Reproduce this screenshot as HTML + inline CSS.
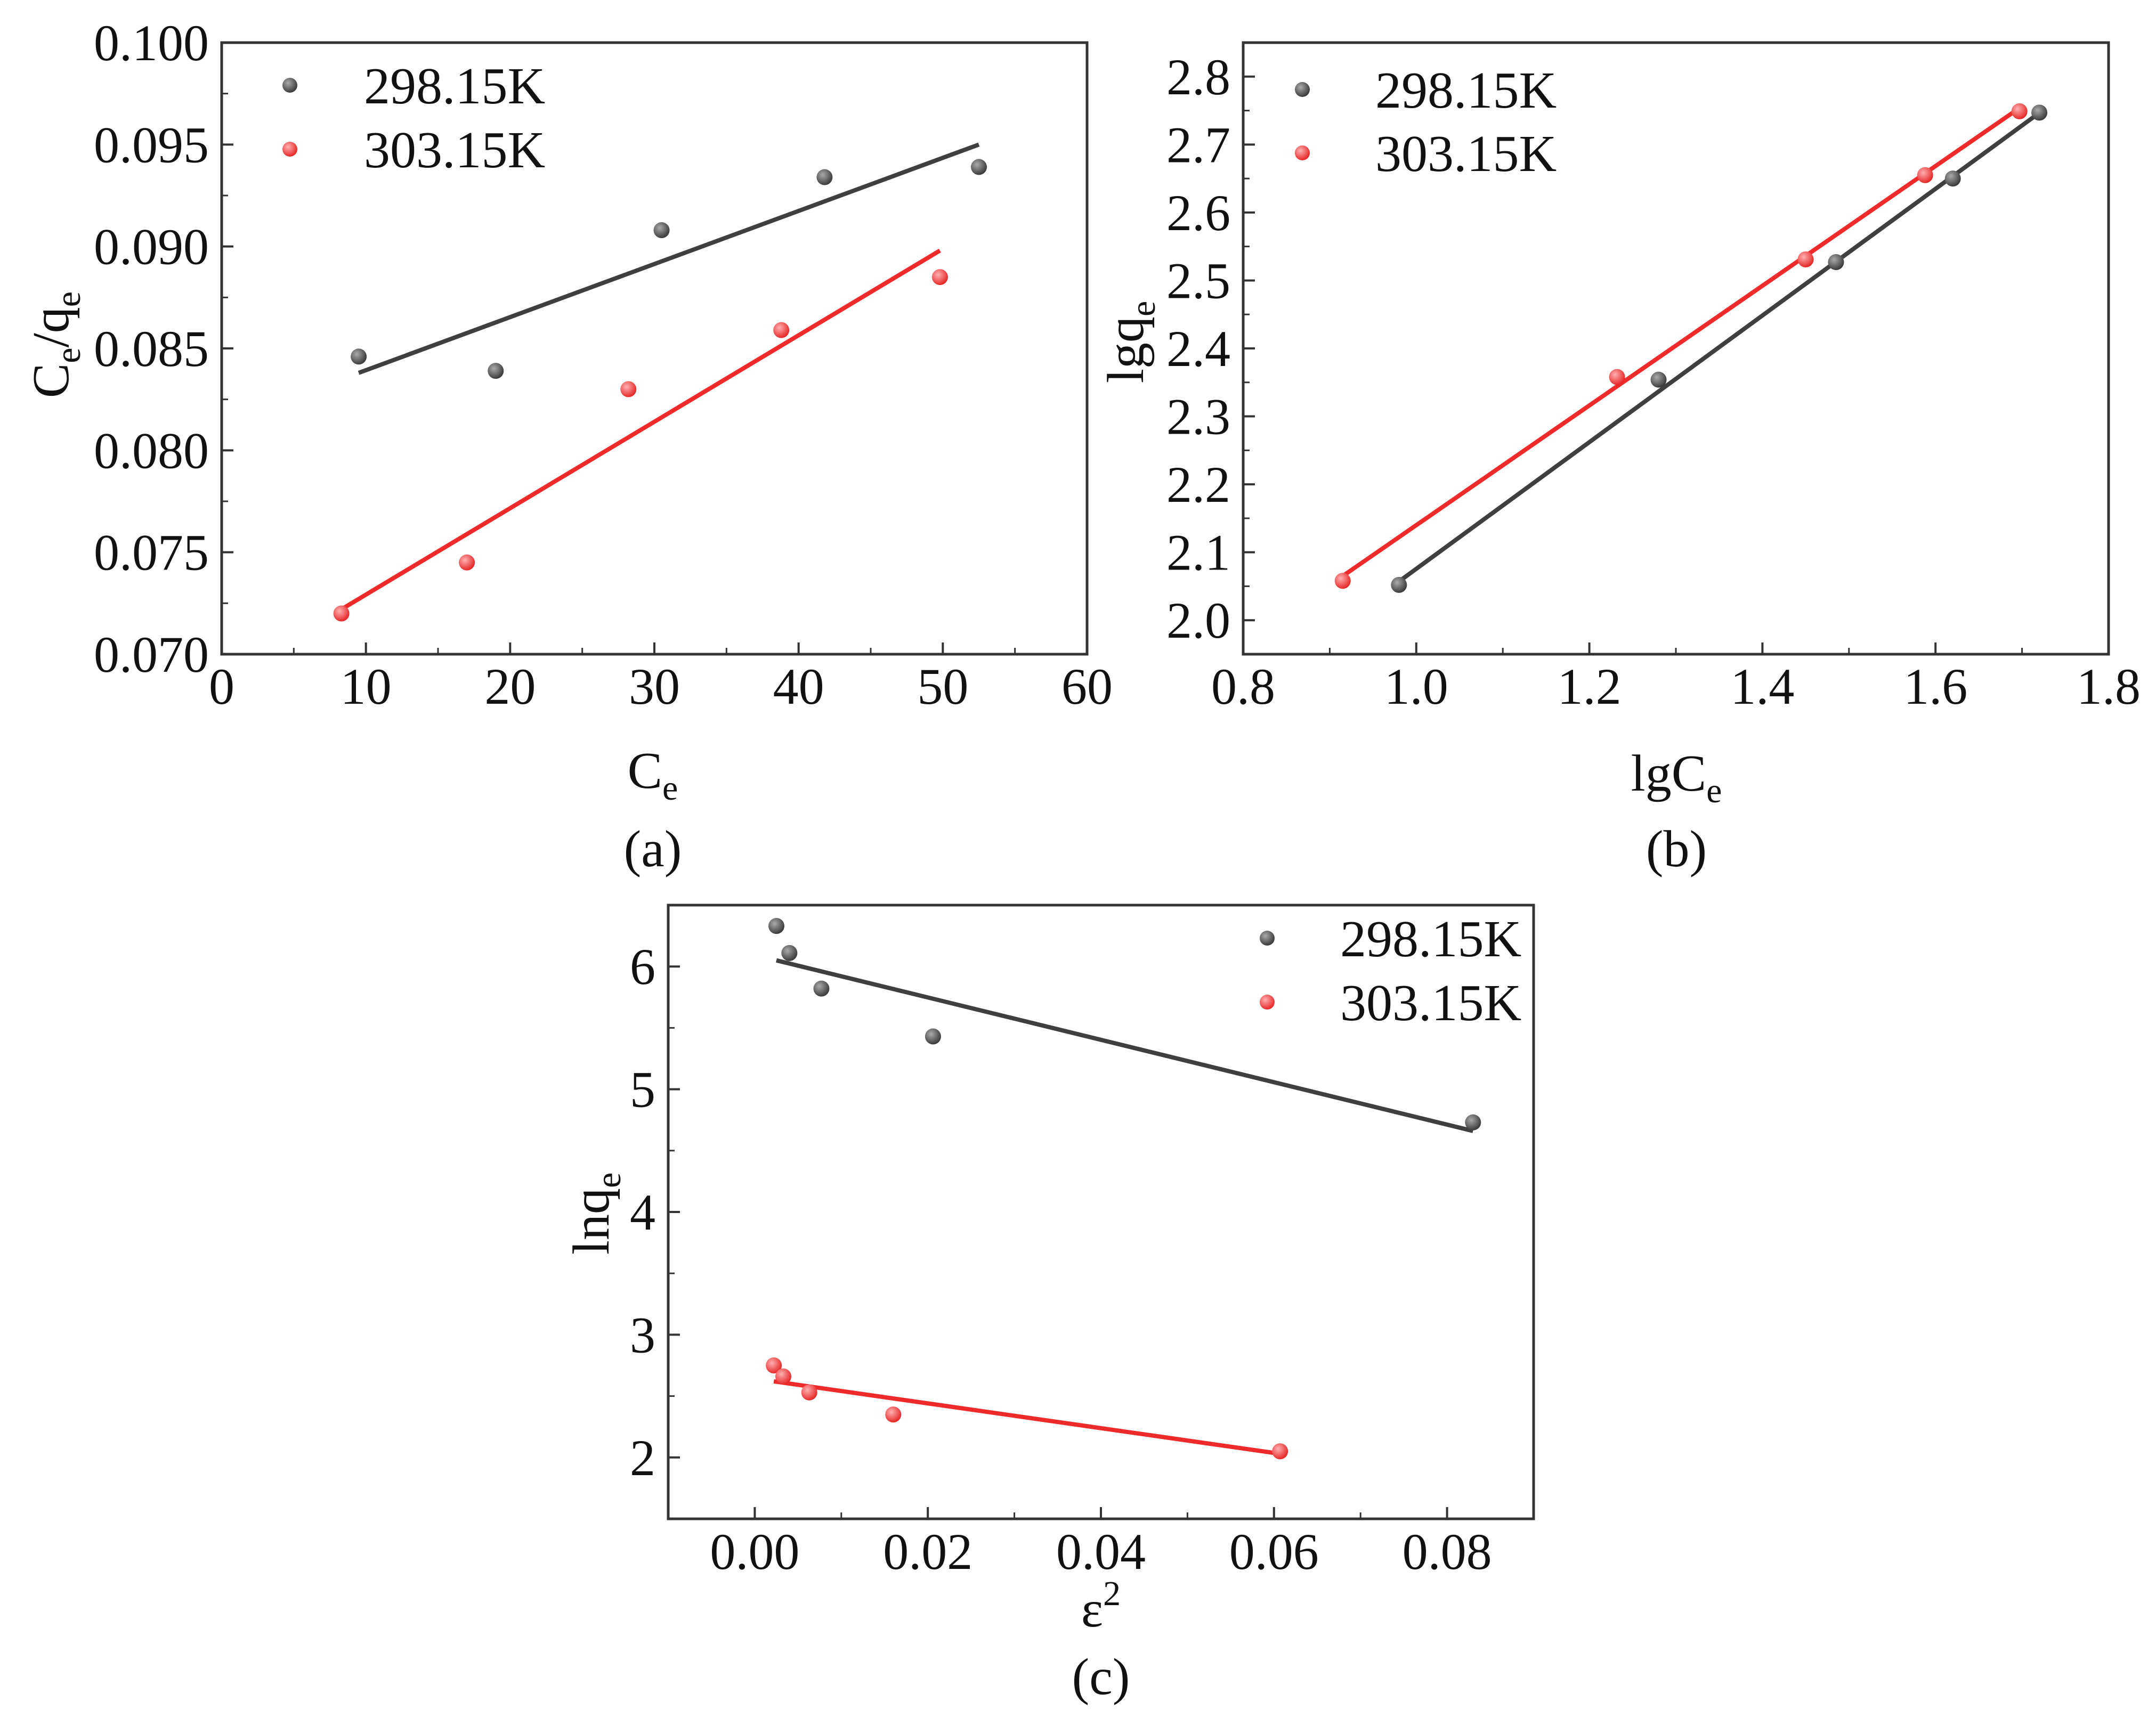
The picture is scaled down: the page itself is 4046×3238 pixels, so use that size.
<!DOCTYPE html>
<html><head><meta charset="utf-8"><style>
html,body{margin:0;padding:0;background:#fff;}
svg{display:block;font-family:"Liberation Serif",serif;}
</style></head><body>
<svg id="fig" width="4046" height="3238" viewBox="0 0 4046 3238" xmlns="http://www.w3.org/2000/svg">
<rect width="4046" height="3238" fill="#fff"/>
</svg>
<script>
// Panel (a) data
const aBlackX = [9.5, 19, 30.5, 41.8, 52.5];
const aBlackY = [0.0846, 0.0839, 0.0908, 0.0934, 0.0939];
const aBlackFit = [[9.5, 0.0838], [52.5, 0.0950]];
const aRedX = [8.3, 17, 28.2, 38.8, 49.8];
const aRedY = [0.0720, 0.0745, 0.0830, 0.0859, 0.0885];
const aRedFit = [[8.3, 0.0722], [49.8, 0.0898]];
const aXTicks = [0, 10, 20, 30, 40, 50, 60];
const aYTicks = [0.070, 0.075, 0.080, 0.085, 0.090, 0.095, 0.100];
// Panel (b) data
const bBlackX = [0.98, 1.28, 1.485, 1.62, 1.72];
const bBlackY = [2.052, 2.354, 2.527, 2.650, 2.747];
const bBlackFit = [[0.98, 2.057], [1.715, 2.742]];
const bRedX = [0.915, 1.232, 1.45, 1.588, 1.697];
const bRedY = [2.058, 2.358, 2.531, 2.655, 2.749];
const bRedFit = [[0.915, 2.065], [1.695, 2.752]];
const bXTicks = [0.8, 1.0, 1.2, 1.4, 1.6, 1.8];
const bYTicks = [2.0, 2.1, 2.2, 2.3, 2.4, 2.5, 2.6, 2.7, 2.8];
// Panel (c) data
const cBlackX = [0.0025, 0.004, 0.0077, 0.0206, 0.083];
const cBlackY = [6.33, 6.11, 5.82, 5.43, 4.73];
const cBlackFit = [[0.0025, 6.05], [0.083, 4.66]];
const cRedX = [0.0022, 0.0033, 0.0063, 0.016, 0.0607];
const cRedY = [2.75, 2.66, 2.53, 2.35, 2.05];
const cRedFit = [[0.0022, 2.62], [0.0607, 2.03]];
const cXTicks = [0.00, 0.02, 0.04, 0.06, 0.08];
const cYTicks = [2, 3, 4, 5, 6];
const legendLabels = ["298.15K", "303.15K"];

const NS = "http://www.w3.org/2000/svg";
const svg = document.getElementById("fig");
const GRAY = "#3f3f3f", RED = "#ee2a2a";
function mk(tag, attrs, parent) {
  const e = document.createElementNS(NS, tag);
  for (const k in attrs) e.setAttribute(k, attrs[k]);
  (parent || svg).appendChild(e);
  return e;
}
const defs = mk("defs", {});
function grad(id, c1, c2) {
  const g = mk("radialGradient", {id: id, cx: "0.38", cy: "0.35", r: "0.7"}, defs);
  mk("stop", {offset: "0", "stop-color": c1}, g);
  mk("stop", {offset: "1", "stop-color": c2}, g);
}
grad("gGray", "#aaaaaa", "#333333");
grad("gRed", "#ffb0b0", "#e51e1e");

function panel(p) {
  const g = mk("g", {});
  
  
  const sx = v => p.L + (v - p.x0) / (p.x1 - p.x0) * (p.R - p.L);
  const sy = v => p.B - (v - p.y0) / (p.y1 - p.y0) * (p.B - p.T);
  const fr = mk("rect", {x: p.L, y: p.T, width: p.R - p.L, height: p.B - p.T, fill: "none", stroke: "#333", "stroke-width": 5}, g);
  
  
  p.xt.forEach((v, i) => {
    const x = sx(v);
    mk("line", {x1: x, x2: x, y1: p.B, y2: p.B - 22, stroke: "#333", "stroke-width": 4}, g);
    const t = mk("text", {x: x, y: p.xtY, "font-size": 96, "text-anchor": "middle", fill: "#111"}, g);
    t.textContent = p.xf(v);
    
    
    if (i < p.xt.length - 1) {
      const xm = sx((v + p.xt[i + 1]) / 2);
      mk("line", {x1: xm, x2: xm, y1: p.B, y2: p.B - 12, stroke: "#333", "stroke-width": 3}, g);
    }
  });
  p.yt.forEach((v, i) => {
    const y = sy(v);
    mk("line", {x1: p.L, x2: p.L + 22, y1: y, y2: y, stroke: "#333", "stroke-width": 4}, g);
    const t = mk("text", {x: p.L - 24, y: y + 33, "font-size": 96, "text-anchor": "end", fill: "#111"}, g);
    t.textContent = p.yf(v);
    
    
    if (i < p.yt.length - 1) {
      const ym = sy((v + p.yt[i + 1]) / 2);
      mk("line", {x1: p.L, x2: p.L + 12, y1: ym, y2: ym, stroke: "#333", "stroke-width": 3}, g);
    }
  });
  if (p.extraMinorY) p.extraMinorY.forEach(v => {
    const ym = sy(v);
    mk("line", {x1: p.L, x2: p.L + 12, y1: ym, y2: ym, stroke: "#333", "stroke-width": 3}, g);
  });
  if (p.extraMinorX) p.extraMinorX.forEach(v => {
    const xm = sx(v);
    mk("line", {x1: xm, x2: xm, y1: p.B, y2: p.B - 12, stroke: "#333", "stroke-width": 3}, g);
  });
  p.series.forEach(s => {
    const ln = mk("line", {x1: sx(s.fit[0][0]), y1: sy(s.fit[0][1]), x2: sx(s.fit[1][0]), y2: sy(s.fit[1][1]), stroke: s.color, "stroke-width": 8}, g);
    
    
    s.xs.forEach((xv, i) => {
      const c = mk("circle", {cx: sx(xv), cy: sy(s.ys[i]), r: 15, fill: s.fill}, g);
      
      
    });
  });
  p.series.forEach((s, i) => {
    const c = mk("circle", {cx: p.legDotX, cy: p.legY[i], r: 14, fill: s.fill}, g);
    
    
    const t = mk("text", {x: p.legTextX, y: p.legY[i] + 34, "font-size": 98, fill: "#111"}, g);
    t.textContent = legendLabels[i];
    
    
  });
  const xt = mk("text", {x: p.xlX, y: p.xlY, "font-size": 98, "text-anchor": "middle", fill: "#111"}, g);
  xt.innerHTML = p.xl;
  
  
  const yt = mk("text", {x: 0, y: 0, "font-size": 98, "text-anchor": "middle", fill: "#111", transform: `translate(${p.ylX + 34},${p.ylY}) rotate(-90)`}, g);
  yt.innerHTML = p.yl;
  
  
  const cap = mk("text", {x: p.xlX, y: p.capY, "font-size": 98, "text-anchor": "middle", fill: "#111"}, g);
  cap.textContent = p.cap;
  
  
}
const sub = 'baseline-shift="-22" font-size="66"';
const blk = (xs, ys, fit) => ({key: "298-15k", color: GRAY, fill: "url(#gGray)", xs, ys, fit});
const red = (xs, ys, fit) => ({key: "303-15k", color: RED, fill: "url(#gRed)", xs, ys, fit});

panel({name: "panel-a", L: 416, R: 2040, T: 80, B: 1228, x0: 0, x1: 60, y0: 0.070, y1: 0.100,
  xt: aXTicks, yt: aYTicks, xf: v => String(v), yf: v => v.toFixed(3), xtY: 1321,
  series: [blk(aBlackX, aBlackY, aBlackFit), red(aRedX, aRedY, aRedFit)],
  legDotX: 544, legTextX: 683, legY: [160, 280],
  xl: `C<tspan ${sub}>e</tspan>`, xlX: 1225, xlY: 1479,
  yl: `C<tspan ${sub}>e</tspan><tspan dy="0">/q</tspan><tspan ${sub}>e</tspan>`, ylX: 94, ylY: 647,
  cap: "(a)", capY: 1626});
panel({name: "panel-b", L: 2333, R: 3957, T: 80, B: 1228, x0: 0.8, x1: 1.8, y0: 1.95, y1: 2.85,
  xt: bXTicks, yt: bYTicks, xf: v => v.toFixed(1), yf: v => v.toFixed(1), xtY: 1321,
  extraMinorY: [1.95, 2.85],
  series: [blk(bBlackX, bBlackY, bBlackFit), red(bRedX, bRedY, bRedFit)],
  legDotX: 2444, legTextX: 2581, legY: [168, 287],
  xl: `lgC<tspan ${sub}>e</tspan>`, xlX: 3146, xlY: 1484,
  yl: `lgq<tspan ${sub}>e</tspan>`, ylX: 2111, ylY: 642,
  cap: "(b)", capY: 1626});
panel({name: "panel-c", L: 1254, R: 2878, T: 1699, B: 2851, x0: -0.01, x1: 0.09, y0: 1.5, y1: 6.5,
  xt: cXTicks, yt: cYTicks, xf: v => v.toFixed(2), yf: v => String(v), xtY: 2945,
  extraMinorY: [1.5, 6.5], extraMinorX: [-0.01, 0.09],
  series: [blk(cBlackX, cBlackY, cBlackFit), red(cRedX, cRedY, cRedFit)],
  legDotX: 2378, legTextX: 2515, legY: [1761, 1881],
  xl: `ε<tspan baseline-shift="40" font-size="66">2</tspan>`, xlX: 2066, xlY: 3053,
  yl: `lnq<tspan ${sub}>e</tspan>`, ylX: 1108, ylY: 2278,
  cap: "(c)", capY: 3180});
</script>
</body></html>
